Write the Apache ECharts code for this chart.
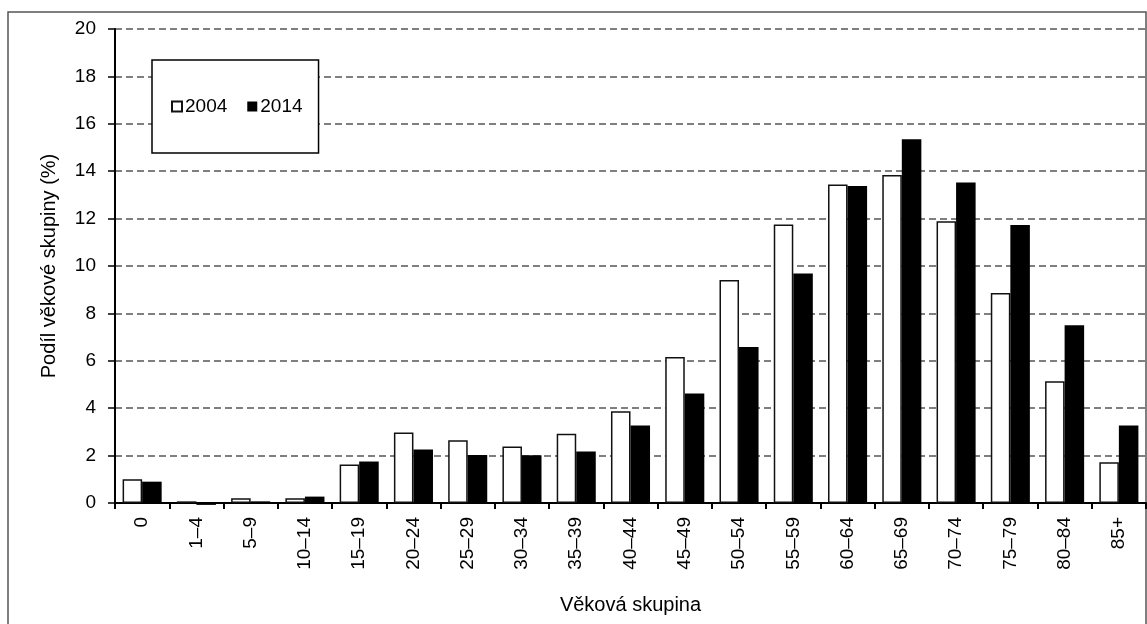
<!DOCTYPE html>
<html>
<head>
<meta charset="utf-8">
<title>Podíl věkové skupiny</title>
<script src="https://cdn.jsdelivr.net/npm/echarts@6/dist/echarts.min.js"></script>
<style>
    html, body { margin: 0; padding: 0; background: #fff; }
    #age_bars { width: 1147px; height: 624px; }
</style>
</head>
<body>
<div id="age_bars"></div>
<script>

// Data
// ------------------------------

var categories = ['0', '1–4', '5–9', '10–14', '15–19', '20–24', '25–29', '30–34', '35–39', '40–44',
    '45–49', '50–54', '55–59', '60–64', '65–69', '70–74', '75–79', '80–84', '85+'];
var values2004 = [1.0, 0.07, 0.2, 0.2, 1.62, 2.97, 2.65, 2.38, 2.92, 3.87,
    6.16, 9.41, 11.75, 13.44, 13.84, 11.89, 8.86, 5.14, 1.72];
var values2014 = [0.9, -0.08, 0.07, 0.27, 1.75, 2.26, 2.03, 2.02, 2.17, 3.27,
    4.62, 6.58, 9.68, 13.38, 15.35, 13.52, 11.73, 7.5, 3.27];
var yTicks = { min: 0, max: 20, interval: 2 };


// Chart
// ------------------------------

var chart_element = document.getElementById('age_bars');
var chart = echarts.init(chart_element);

// Styles
var fontFamily = '"Liberation Sans", Arial, sans-serif',
    textColor = '#000',
    gridLineColor = '#555',
    frameColor = '#555';

chart.setOption({
    animation: false,
    textStyle: {
        fontFamily: fontFamily,
        color: textColor
    },

    // Outer frame of the figure
    graphic: [{
        type: 'rect',
        shape: { x: 8, y: 12, width: 1138, height: 640 },
        style: { fill: 'none', stroke: frameColor, lineWidth: 1.5 },
        silent: true
    }],

    grid: {
        left: 115,
        right: 1,
        top: 29,
        bottom: 121,
        containLabel: false,
        outerBoundsMode: 'none'
    },

    legend: {
        left: 152,
        top: 60,
        padding: [37, 16, 37, 19],
        itemGap: 20,
        itemWidth: 10,
        itemHeight: 10,
        icon: 'rect',
        borderColor: '#000',
        borderWidth: 1.5,
        backgroundColor: '#fff',
        textStyle: {
            fontFamily: fontFamily,
            fontSize: 19,
            color: textColor,
            padding: [0, 0, 0, -2]
        },
        data: ['2004', '2014']
    },

    xAxis: {
        type: 'category',
        data: categories,
        name: 'Věková skupina',
        nameLocation: 'middle',
        nameGap: 92,
        nameTextStyle: {
            fontSize: 20,
            color: textColor
        },
        axisLine: {
            lineStyle: { color: '#000', width: 2 }
        },
        axisTick: {
            show: true,
            length: 6,
            lineStyle: { color: '#000', width: 2 }
        },
        axisLabel: {
            rotate: 90,
            margin: 14,
            fontSize: 19,
            color: textColor,
            interval: 0
        },
        splitLine: { show: false }
    },

    yAxis: {
        type: 'value',
        min: yTicks.min,
        max: yTicks.max,
        interval: yTicks.interval,
        name: 'Podíl věkové skupiny (%)',
        nameLocation: 'middle',
        nameGap: 56,
        nameTextStyle: {
            fontSize: 20,
            color: textColor
        },
        axisLine: {
            show: true,
            lineStyle: { color: '#000', width: 2 }
        },
        axisTick: {
            show: true,
            length: 7,
            lineStyle: { color: '#000', width: 1.5 }
        },
        axisLabel: {
            margin: 19,
            fontSize: 19,
            color: textColor
        },
        splitLine: {
            show: true,
            lineStyle: {
                color: gridLineColor,
                width: 1.5,
                type: [7, 4]
            }
        }
    },

    series: [
        {
            name: '2004',
            type: 'bar',
            data: values2004,
            barGap: '0%',
            barCategoryGap: '28%',
            clip: false,
            itemStyle: {
                color: '#fff',
                borderColor: '#111',
                borderWidth: 1.5
            }
        },
        {
            name: '2014',
            type: 'bar',
            data: values2014,
            barGap: '0%',
            barCategoryGap: '28%',
            clip: false,
            itemStyle: {
                color: '#000'
            }
        }
    ]
});

window.addEventListener('resize', function() {
    chart.resize();
});
</script>
</body>
</html>
